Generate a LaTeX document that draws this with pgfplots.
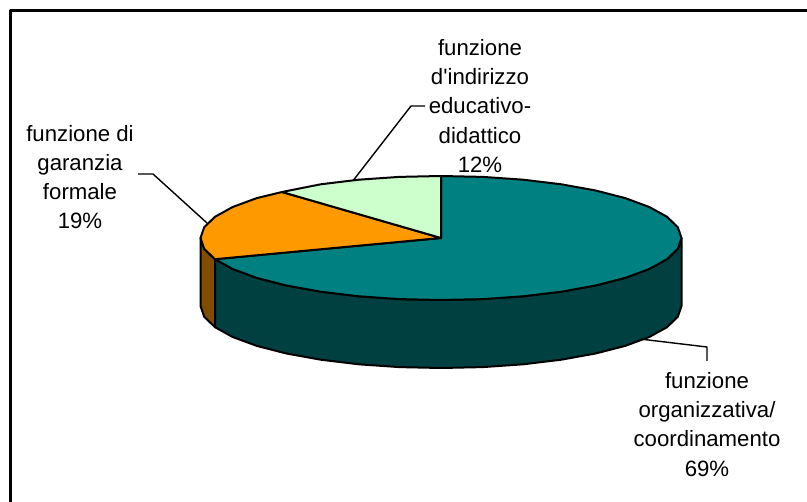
\documentclass[border=0pt]{standalone}
\usepackage{pgfplots}
\pgfplotsset{compat=1.18}
\usepackage{fontspec}
\setmainfont{Liberation Sans}
\definecolor{tealtop}{HTML}{008080}
\definecolor{tealside}{HTML}{004040}
\definecolor{orangetop}{HTML}{FF9900}
\definecolor{orangeside}{HTML}{804C00}
\definecolor{greentop}{HTML}{CCFFCC}
\begin{document}
\begin{tikzpicture}
  \useasboundingbox (0,0) rectangle (807pt,502pt);
  \begin{axis}[
    at={(0,0)}, anchor=south west,
    width=807pt, height=502pt, scale only axis,
    xmin=0, xmax=807, ymin=0, ymax=502, y dir=reverse,
    axis lines=none,
    clip=true,
    every axis plot/.append style={line width=2pt, line join=round},
    nodes={font=\fontsize{22.2}{29.1}\selectfont, align=center, inner sep=0pt},
  ]
    % chart frame: only top and left show
    \addplot[black, line width=2.4pt] coordinates {(10.5,502) (10.5,10.5) (807,10.5)};

    % leader lines
    \addplot[black, line width=1.4pt] coordinates {(352,182) (411,106) (425,106)};
    \addplot[black, line width=1.4pt] coordinates {(207,223) (153,174) (138,174)};
    \addplot[black, line width=1.4pt] coordinates {(640,339) (707,347) (707,361)};

    % side walls
    \addplot[fill=orangeside, draw=black] coordinates {
      (215,259.2) (204.2,248.8) (200.5,238) (200.5,306) (204.2,316.8) (215,327.2)
    } --cycle;
    \addplot[fill=tealside, draw=black] coordinates {
      (681.5,238) (677.8,248.8) (667,259.2) (649.3,269) (625.2,277.9) (595.6,285.5)
      (561.3,291.7) (523.3,296.3) (482.8,299.1) (441,300) (399.2,299.1) (358.7,296.3)
      (320.7,291.7) (286.4,285.5) (256.8,277.9) (232.7,269) (215,259.2)
      (215,327.2) (232.7,337) (256.8,345.9) (286.4,353.5) (320.7,359.7) (358.7,364.3)
      (399.2,367.1) (441,368) (482.8,367.1) (523.3,364.3) (561.3,359.7) (595.6,353.5)
      (625.2,345.9) (649.3,337) (667,327.2) (677.8,316.8) (681.5,306)
    } --cycle;

    % top faces
    \addplot[fill=tealtop, draw=black] coordinates {
      (441,238) (441,176) (482.8,176.9) (523.3,179.7) (561.3,184.3) (595.6,190.5)
      (625.2,198.1) (649.3,207) (667,216.8) (677.8,227.2) (681.5,238) (677.8,248.8)
      (667,259.2) (649.3,269) (625.2,277.9) (595.6,285.5) (561.3,291.7) (523.3,296.3)
      (482.8,299.1) (441,300) (399.2,299.1) (358.7,296.3) (320.7,291.7) (286.4,285.5)
      (256.8,277.9) (232.7,269) (215,259.2)
    } --cycle;
    \addplot[fill=orangetop, draw=black] coordinates {
      (441,238) (215,259.2) (204.2,248.8) (200.5,238) (204.2,227.2) (215,216.8)
      (232.7,207) (256.8,198.1) (282,192)
    } --cycle;
    \addplot[fill=greentop, draw=black] coordinates {
      (441,238) (282,192) (320.7,184.3) (358.7,179.7) (399.2,176.9) (441,176)
    } --cycle;

    % labels
    \node at (axis cs:480,106) {funzione\\d\textquotesingle indirizzo\\educativo-\\didattico\\12\%};
    \node at (axis cs:80,177) {funzione di\\garanzia\\formale\\19\%};
    \node at (axis cs:707,424.5) {funzione\\organizzativa/\\coordinamento\\69\%};
  \end{axis}
\end{tikzpicture}
\end{document}
